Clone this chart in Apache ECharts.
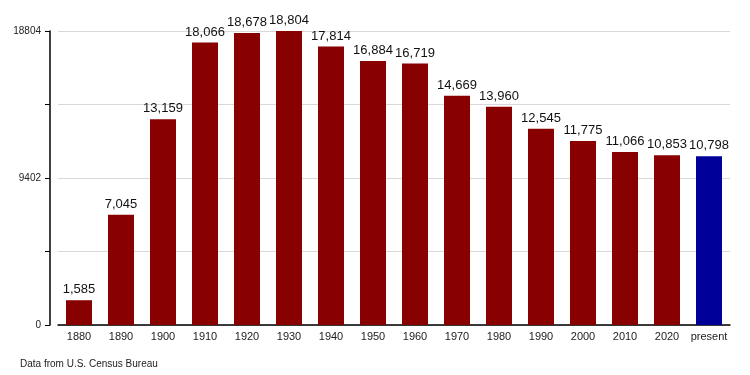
<!DOCTYPE html>
<html><head><meta charset="utf-8">
<script src="https://cdn.jsdelivr.net/npm/echarts@6/dist/echarts.min.js"></script>
<style>html,body{margin:0;padding:0;background:#fff}#c{width:750px;height:375px}</style>
</head><body><div id="c"></div>
<script>
const categories = ['1880','1890','1900','1910','1920','1930','1940','1950','1960','1970','1980','1990','2000','2010','2020','present'];
const values = [1585,7045,13159,18066,18678,18804,17814,16884,16719,14669,13960,12545,11775,11066,10853,10798];
const yTicks = [0,9402,18804];
const chart = echarts.init(document.getElementById('c'));
chart.setOption({
  animation:false,
  backgroundColor:'#fff',
  textStyle:{fontFamily:'Liberation Sans, Arial, sans-serif'},
  grid:{left:58,right:20,top:31,bottom:50},
  graphic:[{type:'text',left:20,top:359,style:{text:'Data from U.S. Census Bureau',fontSize:10,fill:'#222',fontFamily:'Liberation Sans, Arial, sans-serif'}}],
  xAxis:{type:'category',data:categories,
    axisLine:{lineStyle:{color:'#000',width:1.5}},
    axisTick:{show:false},
    axisLabel:{color:'#222',fontSize:11,margin:6,interval:0}},
  yAxis:{type:'value',min:0,max:18804,interval:4701,offset:8,
    axisLine:{show:true,lineStyle:{color:'#000',width:1.5}},
    axisTick:{show:true,length:5,lineStyle:{color:'#000'}},
    splitLine:{lineStyle:{color:'#d8d8d8'}},
    axisLabel:{color:'#222',fontSize:10,margin:9,formatter:v=>yTicks.includes(v)?String(v):''}},
  series:[{type:'bar',barWidth:26,
    data:values.map((v,i)=>({value:v,itemStyle:{color:i===values.length-1?'#000099':'#880000'}})),
    label:{show:true,position:'top',color:'#111',fontSize:13,distance:4,
      formatter:p=>p.value.toLocaleString('en-US')}}]
});
</script></body></html>
